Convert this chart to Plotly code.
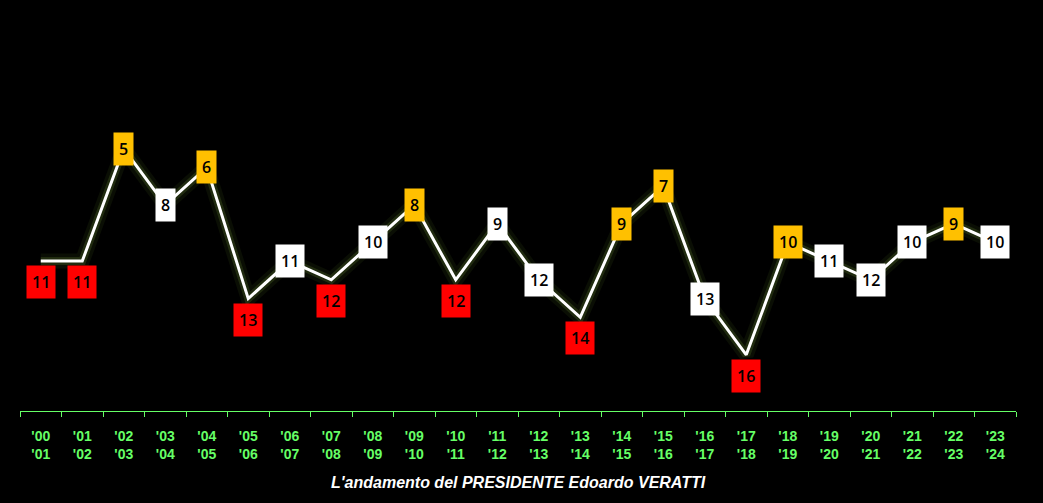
import plotly.graph_objects as go

seasons_from = ["'00","'01","'02","'03","'04","'05","'06","'07","'08","'09","'10","'11",
                "'12","'13","'14","'15","'16","'17","'18","'19","'20","'21","'22","'23"]
seasons_to = ["'01","'02","'03","'04","'05","'06","'07","'08","'09","'10","'11","'12",
              "'13","'14","'15","'16","'17","'18","'19","'20","'21","'22","'23","'24"]
positions = [11, 11, 5, 8, 6, 13, 11, 12, 10, 8, 12, 9, 12, 14, 9, 7, 13, 16, 10, 11, 12, 10, 9, 10]
# label style: 'r' = red (below point), 'o' = orange (on point), 'w' = white (on point)
label_kind = ["r","r","o","w","o","r","w","r","w","o","r","w",
              "w","r","o","o","w","r","o","w","w","w","o","w"]

categories = [f"{a}/{b}" for a, b in zip(seasons_from, seasons_to)]
ticktext = [f"<b>{a}<br>{b}</b>" for a, b in zip(seasons_from, seasons_to)]

colors = {"r": "#FF0000", "o": "#FFC000", "w": "#FFFFFF"}

fig = go.Figure()
# glow layers
fig.add_trace(go.Scatter(x=categories, y=positions, mode="lines",
                         line=dict(color="rgba(100,140,40,0.10)", width=15),
                         hoverinfo="skip", showlegend=False))
fig.add_trace(go.Scatter(x=categories, y=positions, mode="lines",
                         line=dict(color="rgba(120,160,60,0.20)", width=8),
                         hoverinfo="skip", showlegend=False))
fig.add_trace(go.Scatter(x=categories, y=positions, mode="lines",
                         line=dict(color="#FFFFFF", width=3),
                         showlegend=False))

for cat, v, k in zip(categories, positions, label_kind):
    fig.add_annotation(x=cat, y=v, text=str(v), showarrow=False,
                       xref="x", yref="y",
                       yshift=-21 if k == "r" else 0,
                       bgcolor=colors[k], borderpad=5,
                       font=dict(family="Open Sans", size=16, color="#000000", weight=600))

fig.add_annotation(text="<b><i>L'andamento del PRESIDENTE Edoardo VERATTI</i></b>",
                   xref="paper", yref="paper", x=0.5, y=-0.2, showarrow=False,
                   xanchor="center", yanchor="middle",
                   font=dict(family="Liberation Sans", size=16, color="#FFFFFF"))

fig.update_layout(
    width=1043, height=503,
    paper_bgcolor="#000000", plot_bgcolor="#000000",
    margin=dict(l=20, r=27, t=55, b=92),
    showlegend=False,
    xaxis=dict(type="category", tickmode="array", tickvals=categories, ticktext=ticktext,
               tickson="boundaries", ticks="outside", ticklen=5, tickcolor="#66FF66",
               showline=True, linecolor="#66FF66", linewidth=1, showgrid=False,
               zeroline=False, range=[-0.5, 23.5], ticklabelstandoff=12,
               tickfont=dict(family="Liberation Sans", size=14, color="#66FF66")),
    yaxis=dict(range=[19, 0], visible=False, showgrid=False, zeroline=False),
)

fig.write_html("out.html", config={"displayModeBar": False},
               post_script="document.body.style.margin='0';document.body.style.background='#000';")
